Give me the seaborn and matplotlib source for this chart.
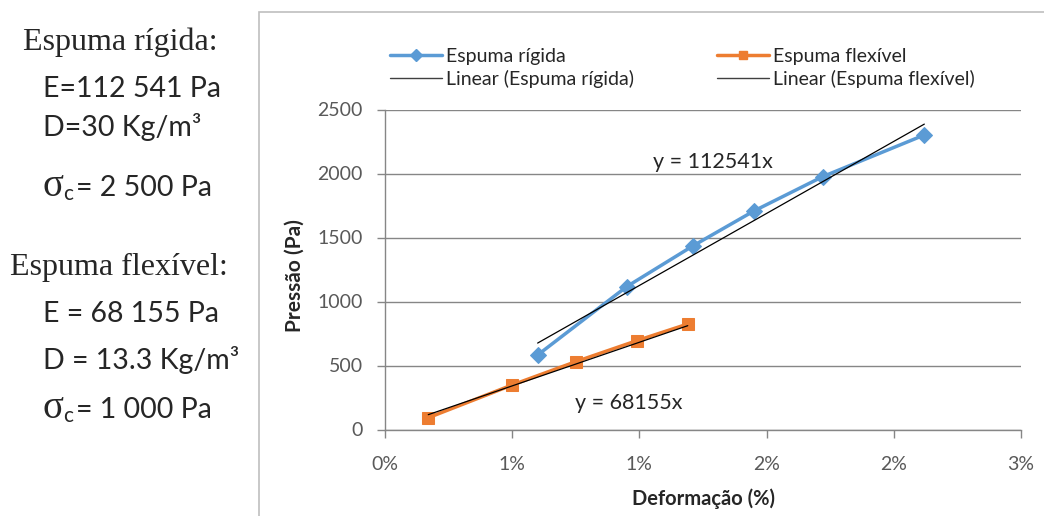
import numpy as np
import pandas as pd
import matplotlib
matplotlib.use("Agg")
import matplotlib.pyplot as plt
import seaborn as sns
from matplotlib.patches import Rectangle
from matplotlib.lines import Line2D

# ---- data ----
rigid_x = [0.0060, 0.0095, 0.0121, 0.0145, 0.0172, 0.0212]
rigid_y = [582, 1116, 1434, 1707, 1975, 2301]
flex_x = [0.0017, 0.0050, 0.0075, 0.0099, 0.0119]
flex_y = [92, 348, 530, 694, 824]
rigid_slope = 112541
flex_slope = 68155
series_names = ["Espuma rígida", "Espuma flexível"]
trend_names = ["Linear (Espuma rígida)", "Linear (Espuma flexível)"]
x_ticks = [0, 0.005, 0.010, 0.015, 0.020, 0.025]
x_tick_labels = ["0%", "1%", "1%", "2%", "2%", "3%"]
y_ticks = [0, 500, 1000, 1500, 2000, 2500]

sns.set_theme(style="white")
plt.rcParams["font.family"] = ["Lato", "DejaVu Sans"]

BLUE = "#5B9BD5"
ORANGE = "#ED7D31"
GRID = "#868686"
TXT = "#262626"
W, H = 1044, 516

fig = plt.figure(figsize=(W / 100, H / 100), dpi=100)
ax = fig.add_axes([385 / W, 1 - 429.5 / H, 636 / W, 320 / H])

df_r = pd.DataFrame({"x": rigid_x, "y": rigid_y})
df_f = pd.DataFrame({"x": flex_x, "y": flex_y})

sns.lineplot(data=df_r, x="x", y="y", ax=ax, color=BLUE, lw=2.5,
             marker="D", markersize=8, markeredgecolor=BLUE, zorder=3)
sns.lineplot(data=df_f, x="x", y="y", ax=ax, color=ORANGE, lw=2.5,
             marker="s", markersize=8.5, markeredgecolor=ORANGE, zorder=3)

# linear trendlines through the origin (Excel style), over the data range
tr_x = np.array([min(rigid_x), max(rigid_x)])
tf_x = np.array([min(flex_x), max(flex_x)])
sns.lineplot(x=tr_x, y=rigid_slope * tr_x, ax=ax, color="black", lw=0.9, zorder=4)
sns.lineplot(x=tf_x, y=flex_slope * tf_x, ax=ax, color="black", lw=0.9, zorder=4)

ax.text(0.0129, 2090, f"y = {rigid_slope}x", fontsize=15.5, color=TXT,
        ha="center", va="center")
ax.text(0.0096, 205, f"y = {flex_slope}x", fontsize=15.5, color=TXT,
        ha="center", va="center")

ax.set_xlim(0, 0.025)
ax.set_ylim(0, 2500)
ax.set_xticks(x_ticks)
ax.set_xticklabels(x_tick_labels)
ax.set_yticks(y_ticks)
ax.grid(axis="y", color=GRID, lw=1)
ax.grid(axis="x", visible=False)
for s in ["top", "right"]:
    ax.spines[s].set_visible(False)
for s in ["left", "bottom"]:
    ax.spines[s].set_color(GRID)
    ax.spines[s].set_linewidth(1)
ax.tick_params(axis="both", colors="#595959", labelsize=14, length=6,
               width=1, direction="out", color=GRID, bottom=True, left=True)
ax.tick_params(axis="x", pad=13)
ax.tick_params(axis="y", pad=10)
ax.set_xlabel("Deformação (%)", fontsize=14.5, fontweight="bold", color=TXT, labelpad=11)
ax.set_ylabel("Pressão (Pa)", fontsize=15, fontweight="bold", color=TXT)
ax.yaxis.set_label_coords(-0.126, 0.48)

leg_kw = dict(loc="upper left", frameon=False, fontsize=14, borderpad=0,
              handlelength=2.7, handletextpad=0.2, labelspacing=0.26,
              labelcolor=TXT)
h_rigid = [Line2D([], [], color=BLUE, lw=2.5, marker="D", markersize=6),
           Line2D([], [], color="#404040", lw=1)]
h_flex = [Line2D([], [], color=ORANGE, lw=2.5, marker="s", markersize=6),
          Line2D([], [], color="#404040", lw=1)]
fig.legend(h_rigid, [series_names[0], trend_names[0]],
           bbox_to_anchor=(380 / W, 1 - 38 / H), **leg_kw)
fig.legend(h_flex, [series_names[1], trend_names[1]],
           bbox_to_anchor=(707 / W, 1 - 38 / H), **leg_kw)

# chart-area border
fig.patches.append(Rectangle((259 / W, -0.1), 1.0, 1.1 - 12 / H, transform=fig.transFigure,
                             fill=False, edgecolor="#BFBFBF", lw=1.2))

# side annotations
serif = ["Liberation Serif", "DejaVu Serif"]
sans = ["Lato", "DejaVu Sans"]
fig.text(23 / W, 1 - 42 / H, "Espuma rígida:", family=serif, fontsize=23, va="center")
fig.text(43 / W, 1 - 89 / H, "E=112 541 Pa", family=sans, fontsize=20.5, va="center", color=TXT)
fig.text(43 / W, 1 - 127 / H, "D=30 Kg/m³", family=sans, fontsize=20.5, va="center", color=TXT)
fig.text(42 / W, 1 - 186 / H, "σ", family=serif, fontsize=28, va="center", color=TXT)
fig.text(63 / W, 1 - 194 / H, "c", family=sans, fontsize=15, va="center", color=TXT)
fig.text(76 / W, 1 - 188 / H, "= 2 500 Pa", family=sans, fontsize=20.5, va="center", color=TXT)

fig.text(10 / W, 1 - 267 / H, "Espuma flexível:", family=serif, fontsize=23, va="center")
fig.text(43 / W, 1 - 314 / H, "E = 68 155 Pa", family=sans, fontsize=20.5, va="center", color=TXT)
fig.text(43 / W, 1 - 360 / H, "D = 13.3 Kg/m³", family=sans, fontsize=20.5, va="center", color=TXT)
fig.text(42 / W, 1 - 408 / H, "σ", family=serif, fontsize=28, va="center", color=TXT)
fig.text(63 / W, 1 - 416 / H, "c", family=sans, fontsize=15, va="center", color=TXT)
fig.text(76 / W, 1 - 410 / H, "= 1 000 Pa", family=sans, fontsize=20.5, va="center", color=TXT)

fig.savefig("out.png", dpi=100, facecolor="white")
